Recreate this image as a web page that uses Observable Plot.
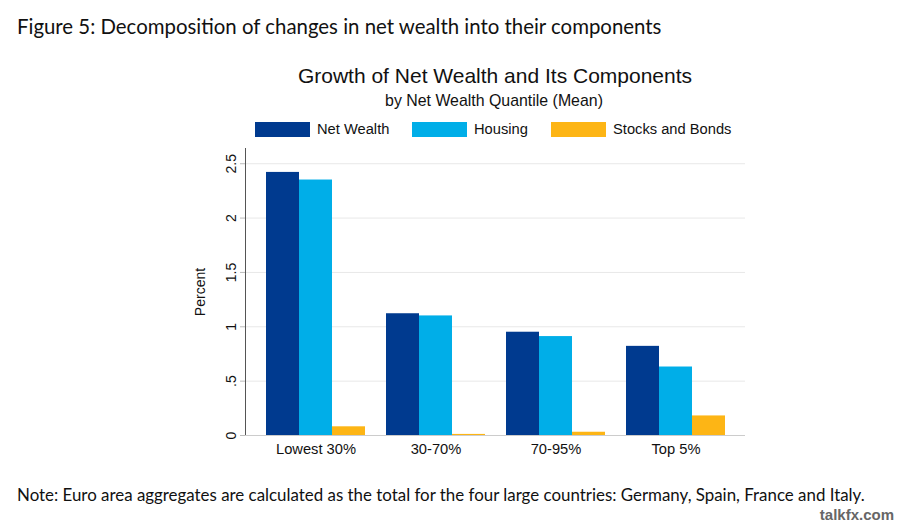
<!DOCTYPE html>
<html>
<head>
<meta charset="utf-8">
<script src="https://cdn.jsdelivr.net/npm/d3@7"></script>
<script src="https://cdn.jsdelivr.net/npm/@observablehq/plot@0.6"></script>
<style>
  html, body { margin: 0; padding: 0; background: #fff; }
  #wrap { position: relative; width: 900px; height: 527px; overflow: hidden; background: #fff; }
  .abs { position: absolute; white-space: nowrap; line-height: 1; }
  .fig { font-family: Lato, "Open Sans", sans-serif; color: #111; }
  .arial { font-family: "Liberation Sans", Arial, sans-serif; color: #111; }
  svg { position: absolute; left: 0; top: 140px; }
</style>
</head>
<body>
<div id="wrap"></div>
<script>
const categories = ["Lowest 30%", "30-70%", "70-95%", "Top 5%"];
const series = ["Net Wealth", "Housing", "Stocks and Bonds"];
const netWealth = [2.42, 1.12, 0.95, 0.82];
const housing = [2.35, 1.10, 0.91, 0.63];
const stocksBonds = [0.08, 0.01, 0.03, 0.18];
const yTicks = [0, 0.5, 1, 1.5, 2, 2.5];
const colors = ["#003a8f", "#00aee8", "#fdb515"];

const values = [netWealth, housing, stocksBonds];
const data = [];
categories.forEach((c, i) => series.forEach((s, j) => data.push({category: c, series: s, value: values[j][i]})));

const wrap = document.getElementById("wrap");
function addText(txt, cls, css) {
  const d = document.createElement("div");
  d.className = "abs " + cls;
  d.textContent = txt;
  Object.assign(d.style, css);
  wrap.appendChild(d);
  return d;
}

addText("Figure 5: Decomposition of changes in net wealth into their components", "fig", {left: "17px", top: "16px", fontSize: "20.4px"});
addText("Growth of Net Wealth and Its Components", "arial", {left: "0px", width: "990px", textAlign: "center", top: "65px", fontSize: "21px"});
addText("by Net Wealth Quantile (Mean)", "arial", {left: "0px", width: "988px", textAlign: "center", top: "93px", fontSize: "15.9px"});
addText("Note: Euro area aggregates are calculated as the total for the four large countries: Germany, Spain, France and Italy.", "fig", {left: "17px", top: "487px", fontSize: "16.9px"});
addText("talkfx.com", "arial", {right: "6px", top: "507px", fontSize: "15px", fontWeight: "bold", color: "#666"});

// legend
const legendX = [255, 412, 551];
series.forEach((s, j) => {
  const sw = document.createElement("div");
  Object.assign(sw.style, {position: "absolute", left: legendX[j] + "px", top: "122px", width: "55px", height: "15px", background: colors[j]});
  wrap.appendChild(sw);
  addText(s, "arial", {left: (legendX[j] + 62) + "px", top: "122px", fontSize: "14.7px"});
});

const common = {
  width: 900, height: 330,
  marginLeft: 245, marginRight: 155, marginTop: 8, marginBottom: 35,
  style: {fontFamily: "Liberation Sans, Arial, sans-serif", fontSize: "14px", color: "#111", background: "transparent"}
};
const yDomain = [0, 2.64];
const fmt = d => d === 0 ? "0" : String(d).replace(/^0\./, ".");

const back = Plot.plot({
  ...common,
  x: {domain: [0, 1], axis: null},
  y: {domain: yDomain, axis: null},
  marks: [
    Plot.gridY(yTicks, {stroke: "#e8e8e8", strokeOpacity: 1}),
    Plot.axisY(yTicks, {tickFormat: fmt, tickRotate: -90, tickSize: 5, tickPadding: 5, stroke: "#bbbbbb", fill: "#111", fontSize: 14,
      label: "Percent", labelAnchor: "center", labelOffset: 50, labelArrow: "none"}),
    Plot.ruleY([0], {stroke: "#cccccc"}),
    Plot.ruleX([0], {y1: yDomain[0], y2: yDomain[1], stroke: "#555555"})
  ]
});
wrap.appendChild(back);

const fore = Plot.plot({
  ...common,
  fx: {domain: categories, paddingInner: 0.177, paddingOuter: 0.165, label: null},
  x: {domain: series, axis: null, padding: 0},
  y: {domain: yDomain, axis: null},
  color: {domain: series, range: colors},
  marks: [
    Plot.barY(data, {fx: "category", x: "series", y: "value", fill: "series"}),
    Plot.axisFx({anchor: "bottom", tickSize: 0, tickPadding: 8, fontSize: 14.7, label: null, fill: "#111"})
  ]
});
wrap.appendChild(fore);
</script>
</body>
</html>
